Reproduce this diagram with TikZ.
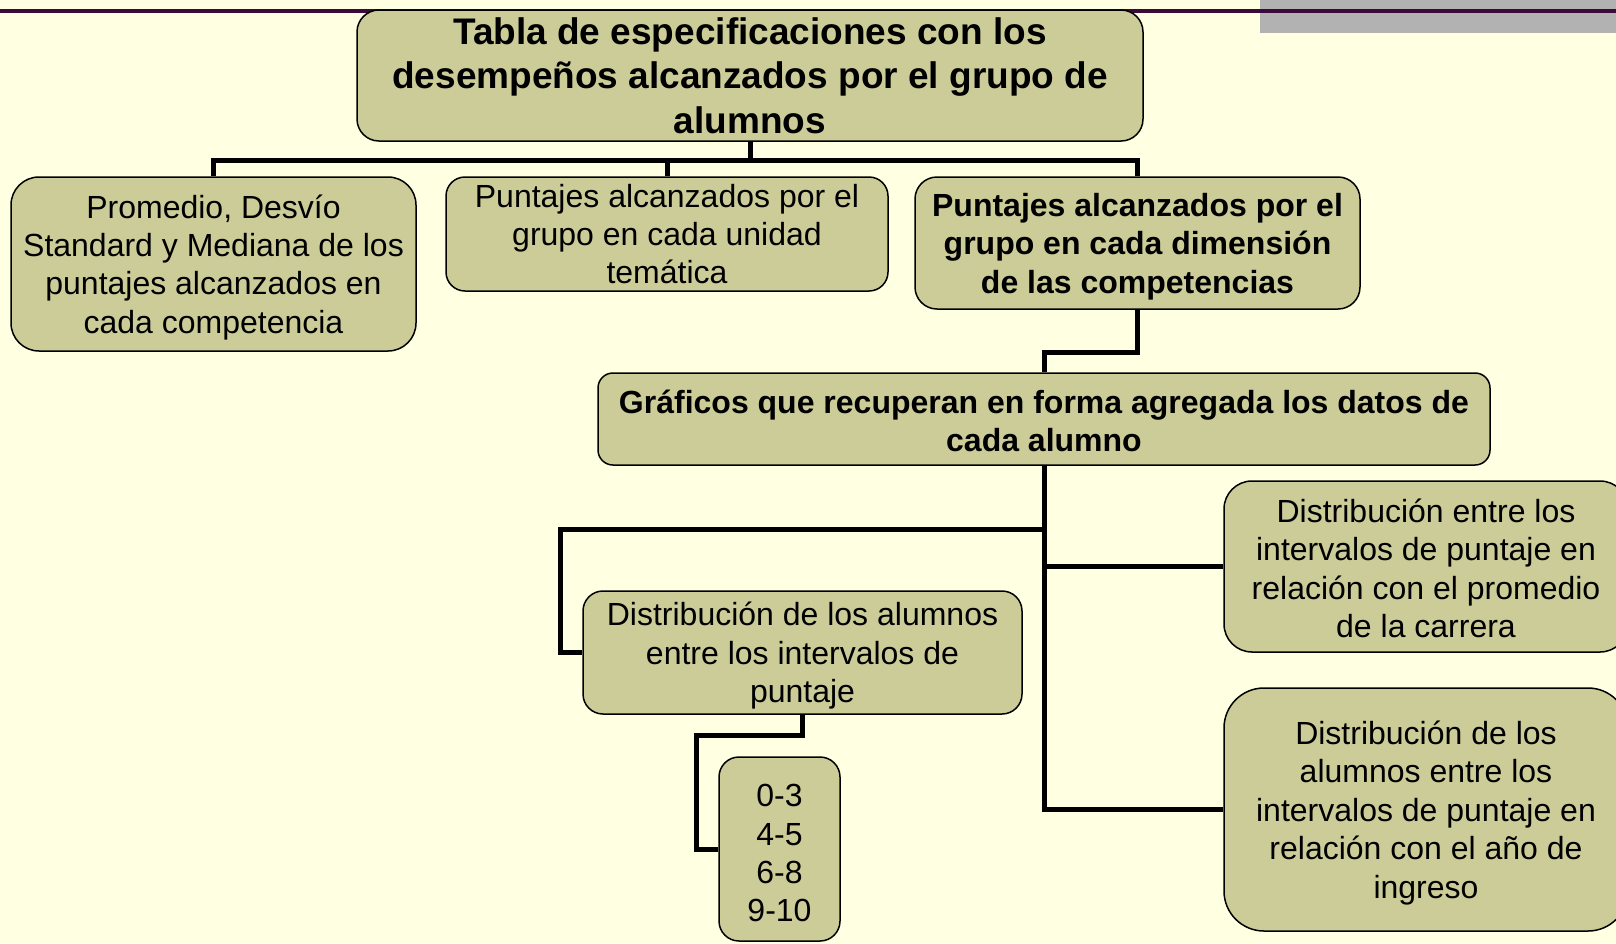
\documentclass[tikz,border=0pt]{standalone}
\usepackage{fontspec}
\setmainfont{Liberation Sans}
\usepackage{xcolor}
\definecolor{paper}{HTML}{FFFFE1}
\definecolor{boxolive}{HTML}{CCCC99}
\definecolor{bandgray}{HTML}{B2B2B2}
\definecolor{rulepurple}{HTML}{3A0A3A}

\begin{document}
\begin{tikzpicture}[
  x=0.5pt, y=-0.5pt,
  line join=miter,
  box/.style={draw=black, line width=0.75pt, fill=boxolive, rounded corners=#1, inner sep=0pt, align=center, font=\fontsize{16}{19.2}\selectfont},
  box/.default=10pt,
  lower/.style={text depth=#1},
  taller/.style={text height=#1},
  conn/.style={draw=black, line width=2.5pt}
]
  % page background
  \useasboundingbox (0,0) rectangle (1616,943);
  \fill[paper] (0,0) rectangle (1616,943);
  \fill[bandgray] (1260,0) rectangle (1616,33);
  \draw[rulepurple, line width=2pt] (0,11) -- (1616,11);

  % upper level
  \node[box=11pt, minimum width=393pt, minimum height=65.5pt, font=\fontsize{18.5}{22.2}\selectfont\bfseries] (tabla) at (750,75.5)
    {Tabla de especificaciones con los\\desempeños alcanzados por el grupo de\\alumnos};
  \node[box=14pt, lower=-0.6pt, minimum width=202.5pt, minimum height=87pt] (promedio) at (213.5,264)
    {Promedio, Desvío\\Standard y Mediana de los\\puntajes alcanzados en\\cada competencia};
  \node[box=9.5pt, minimum width=221pt, minimum height=57pt] (unidad) at (667,234)
    {Puntajes alcanzados por el\\grupo en cada unidad\\temática};
  \node[box=11pt, lower=-1.8pt, minimum width=222.5pt, minimum height=66pt, font=\fontsize{16}{19.2}\selectfont\bfseries] (dimension) at (1137.5,243)
    {Puntajes alcanzados por el\\grupo en cada dimensión\\de las competencias};

  % graphs
  \node[box=7.5pt, taller=33.1pt, minimum width=446pt, minimum height=46pt, font=\fontsize{16}{19.2}\selectfont\bfseries] (graficos) at (1044,419)
    {Gráficos que recuperan en forma agregada los datos de\\cada alumno};
  \node[box=10pt, lower=-0.6pt, minimum width=219.5pt, minimum height=61.5pt] (alumnos) at (802.5,652.5)
    {Distribución de los alumnos\\entre los intervalos de\\puntaje};
  \node[box=10pt, taller=73.1pt, minimum width=60.5pt, minimum height=92pt] (rangos) at (779.5,849)
    {0-3\\4-5\\6-8\\9-10};
  \node[box=14pt, taller=71.4pt, minimum width=202pt, minimum height=85.5pt] (promcarrera) at (1426,566.5)
    {Distribución entre los\\intervalos de puntaje en\\relación con el promedio\\de la carrera};
  \node[box=20pt, lower=-1.8pt, minimum width=202pt, minimum height=121.5pt] (ingreso) at (1426,809.5)
    {Distribución de los\\alumnos entre los\\intervalos de puntaje en\\relación con el año de\\ingreso};

  % connectors
  \coordinate (bar) at (750,160);
  \draw[conn] (tabla.south) -- (bar);
  \draw[conn] (promedio.north) |- (bar);
  \draw[conn] (unidad.north) |- (bar);
  \draw[conn] (dimension.north) |- (bar);
  \draw[conn] (dimension.south) -- ++(0,43) -| (graficos.north);
  \draw[conn] (graficos.south) |- (ingreso.west);
  \draw[conn] (graficos.south) |- (promcarrera.west);
  \coordinate (elbowa) at (560,529);
  \draw[conn] (graficos.south |- elbowa) -- (elbowa) |- (alumnos.west);
  \coordinate (elbowb) at (696,735);
  \draw[conn] (alumnos.south) |- (elbowb) |- (rangos.west);
\end{tikzpicture}
\end{document}
